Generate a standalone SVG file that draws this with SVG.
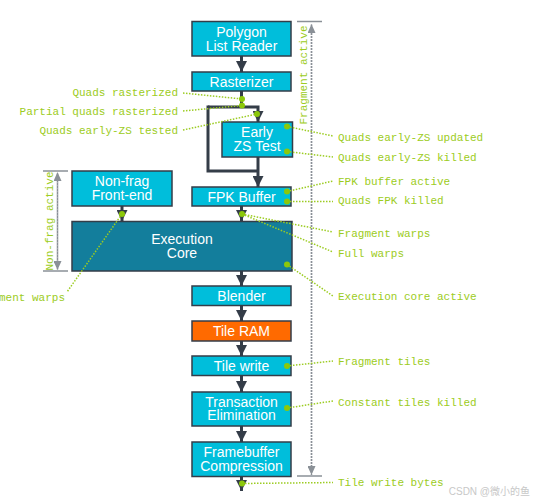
<svg xmlns="http://www.w3.org/2000/svg" width="533" height="503" viewBox="0 0 533 503">
<defs>
<marker id="ah" markerUnits="userSpaceOnUse" markerWidth="12" markerHeight="11" refX="11" refY="5.5" orient="auto">
<path d="M0,0 L11,5.5 L0,11 Z" fill="#343d48"/>
</marker>
<marker id="gh" markerUnits="userSpaceOnUse" markerWidth="10" markerHeight="8" refX="9" refY="4" orient="auto">
<path d="M0,0 L9,4 L0,8 Z" fill="#8a9097"/>
</marker>
<style>
.box{fill:#00bedb;stroke:#343d48;stroke-width:1.5}
.core{fill:#137e9c;stroke:#343d48;stroke-width:1.5}
.ram{fill:#ff6a00;stroke:#343d48;stroke-width:1.5}
.bt{font-family:"Liberation Sans",Arial,sans-serif;font-size:14px;fill:#ffffff;text-anchor:middle}
.arr{fill:none;stroke:#343d48;stroke-width:3}
.lead{fill:none;stroke:#9ccc22;stroke-width:1.5;stroke-dasharray:1.5 1.5}
.dot{fill:#8cc80a}
.lbl{font-family:"Liberation Mono","DejaVu Sans Mono",monospace;font-size:11px;fill:#9ccc22}
.gl{fill:none;stroke:#8a9097;stroke-width:1.5;stroke-dasharray:1.5 1.5}
.tick{stroke:#8a9097;stroke-width:1.5}
</style>
</defs>
<rect width="533" height="503" fill="#ffffff"/>

<g id="fragment-active">
<line class="tick" x1="297" y1="21.5" x2="322" y2="21.5"/>
<line class="tick" x1="297" y1="476" x2="322" y2="476"/>
<line class="gl" x1="311.5" y1="470" x2="311.5" y2="24" marker-end="url(#gh)"/>
<line class="gl" x1="311.5" y1="30" x2="311.5" y2="475" marker-end="url(#gh)"/>
<text class="lbl" transform="translate(307,75) rotate(-90)" text-anchor="middle">Fragment active</text>
</g>
<g id="nonfrag-active">
<line class="tick" x1="43" y1="171" x2="68" y2="171"/>
<line class="tick" x1="43" y1="271" x2="68" y2="271"/>
<line class="gl" x1="57.5" y1="265" x2="57.5" y2="172" marker-end="url(#gh)"/>
<line class="gl" x1="57.5" y1="178" x2="57.5" y2="270" marker-end="url(#gh)"/>
<text class="lbl" transform="translate(53,221) rotate(-90)" text-anchor="middle">Non-frag active</text>
</g>

<g id="connectors">
<path class="arr" d="M241.5,56 V72" marker-end="url(#ah)"/>
<path class="arr" d="M241.5,91 V107"/>
<path class="arr" d="M208,107 H258 V122" marker-end="url(#ah)"/>
<path class="arr" d="M208,105.5 V171 H258"/>
<path class="arr" d="M258,157 V187" marker-end="url(#ah)"/>
<path class="arr" d="M122,206 V221" marker-end="url(#ah)"/>
<path class="arr" d="M241.5,206 V221" marker-end="url(#ah)"/>
<path class="arr" d="M241.5,271 V286" marker-end="url(#ah)"/>
<path class="arr" d="M241.5,306 V321" marker-end="url(#ah)"/>
<path class="arr" d="M241.5,341 V356" marker-end="url(#ah)"/>
<path class="arr" d="M241.5,375.5 V392" marker-end="url(#ah)"/>
<path class="arr" d="M241.5,426 V442" marker-end="url(#ah)"/>
<path class="arr" d="M241.5,476.5 V491" marker-end="url(#ah)"/>
</g>

<g id="polygon-list-reader">
<rect class="box" x="192" y="21.5" width="99" height="34.5"/>
<text class="bt" x="241.5" y="36.5">Polygon</text>
<text class="bt" x="241.5" y="50.5">List Reader</text>
</g>
<g id="rasterizer">
<rect class="box" x="192" y="72" width="99" height="19"/>
<text class="bt" x="241.5" y="86.5">Rasterizer</text>
</g>
<g id="early-zs-test">
<rect class="box" x="222" y="122" width="70.5" height="35"/>
<text class="bt" x="257" y="137">Early</text>
<text class="bt" x="257" y="151">ZS Test</text>
</g>
<g id="fpk-buffer">
<rect class="box" x="192" y="187" width="99" height="19"/>
<text class="bt" x="241.5" y="201.5">FPK Buffer</text>
</g>
<g id="nonfrag-frontend">
<rect class="box" x="72" y="171" width="100" height="35"/>
<text class="bt" x="122" y="186">Non-frag</text>
<text class="bt" x="122" y="200">Front-end</text>
</g>
<g id="execution-core">
<rect class="core" x="72" y="221.5" width="220" height="49.5"/>
<text class="bt" x="182" y="244">Execution</text>
<text class="bt" x="182" y="258">Core</text>
</g>
<g id="blender">
<rect class="box" x="192" y="286" width="99" height="19.5"/>
<text class="bt" x="241.5" y="300.5">Blender</text>
</g>
<g id="tile-ram">
<rect class="ram" x="192" y="321" width="99" height="20"/>
<text class="bt" x="241.5" y="336">Tile RAM</text>
</g>
<g id="tile-write">
<rect class="box" x="192" y="356" width="99" height="19.5"/>
<text class="bt" x="241.5" y="370.5">Tile write</text>
</g>
<g id="transaction-elimination">
<rect class="box" x="192" y="392" width="99" height="34"/>
<text class="bt" x="241.5" y="406.5">Transaction</text>
<text class="bt" x="241.5" y="420">Elimination</text>
</g>
<g id="framebuffer-compression">
<rect class="box" x="192" y="442" width="99" height="34.5"/>
<text class="bt" x="241.5" y="456.5">Framebuffer</text>
<text class="bt" x="241.5" y="470.5">Compression</text>
</g>

<g id="counters">
<line class="lead" x1="183" y1="93" x2="242" y2="99"/>
<circle class="dot" cx="242" cy="99" r="3"/>
<text class="lbl" x="178" y="96" text-anchor="end">Quads rasterized</text>

<line class="lead" x1="183" y1="111" x2="242" y2="105.5"/>
<circle class="dot" cx="242" cy="105.5" r="3"/>
<text class="lbl" x="178" y="115" text-anchor="end">Partial quads rasterized</text>

<line class="lead" x1="183" y1="130" x2="257" y2="114"/>
<circle class="dot" cx="257" cy="114" r="3"/>
<text class="lbl" x="178" y="134" text-anchor="end">Quads early-ZS tested</text>

<line class="lead" x1="287" y1="126.5" x2="333" y2="136"/>
<circle class="dot" cx="287" cy="126.5" r="3"/>
<text class="lbl" x="338" y="141">Quads early-ZS updated</text>

<line class="lead" x1="287" y1="151.5" x2="333" y2="157"/>
<circle class="dot" cx="287" cy="151.5" r="3"/>
<text class="lbl" x="338" y="161">Quads early-ZS killed</text>

<line class="lead" x1="287" y1="191.5" x2="333" y2="181"/>
<circle class="dot" cx="287" cy="191.5" r="3"/>
<text class="lbl" x="338" y="185">FPK buffer active</text>

<line class="lead" x1="287" y1="201.5" x2="333" y2="201.5"/>
<circle class="dot" cx="287" cy="201.5" r="3"/>
<text class="lbl" x="338" y="204">Quads FPK killed</text>

<line class="lead" x1="242" y1="214" x2="333" y2="232"/>
<line class="lead" x1="242" y1="214" x2="333" y2="252"/>
<circle class="dot" cx="242" cy="214" r="3"/>
<text class="lbl" x="338" y="237">Fragment warps</text>
<text class="lbl" x="338" y="257">Full warps</text>

<line class="lead" x1="287" y1="264.5" x2="333" y2="296"/>
<circle class="dot" cx="287" cy="264.5" r="3"/>
<text class="lbl" x="338" y="300">Execution core active</text>

<line class="lead" x1="122" y1="214" x2="67" y2="292"/>
<circle class="dot" cx="122" cy="214" r="3"/>
<text class="lbl" x="65" y="301" text-anchor="end">Fragment warps</text>

<line class="lead" x1="287" y1="366" x2="333" y2="361"/>
<circle class="dot" cx="287" cy="366" r="3"/>
<text class="lbl" x="338" y="365">Fragment tiles</text>

<line class="lead" x1="287" y1="408" x2="333" y2="401"/>
<circle class="dot" cx="287" cy="408" r="3"/>
<text class="lbl" x="338" y="406">Constant tiles killed</text>

<line class="lead" x1="242" y1="483.5" x2="333" y2="482.5"/>
<circle class="dot" cx="242" cy="483.5" r="3"/>
<text class="lbl" x="338" y="486">Tile write bytes</text>
</g>

<text x="530" y="495" text-anchor="end" font-family="'Liberation Sans','Noto Sans CJK SC',sans-serif" font-size="10" fill="#c8c8c8">CSDN @微小的鱼</text>
</svg>
